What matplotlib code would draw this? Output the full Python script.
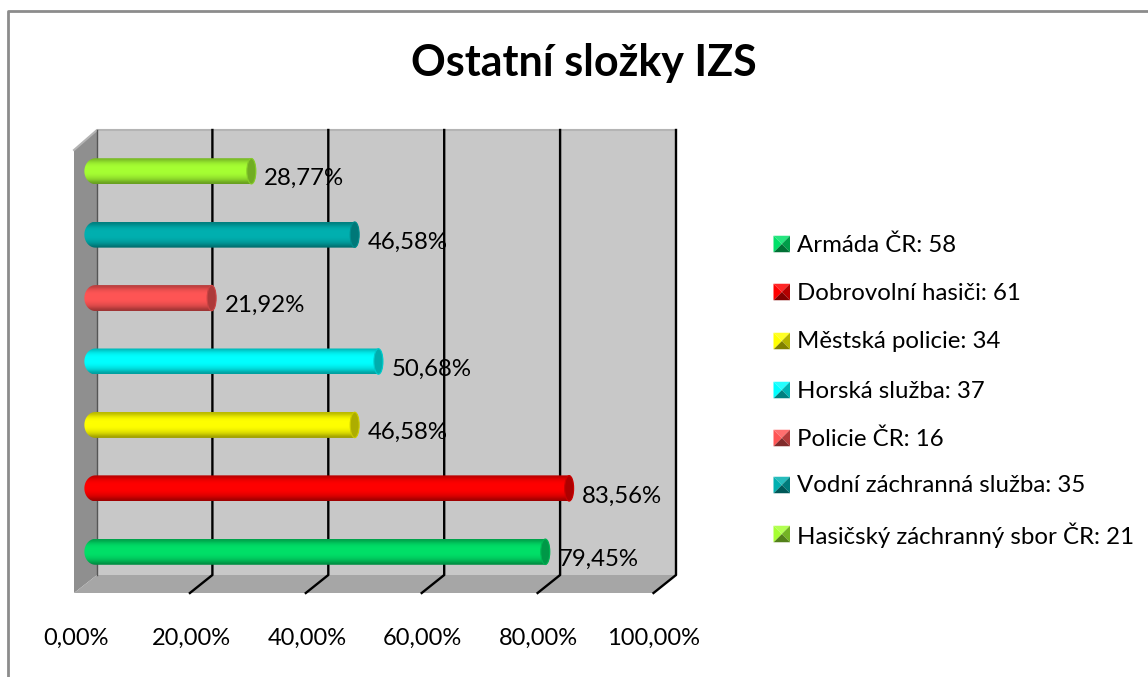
import numpy as np
import matplotlib
matplotlib.use("Agg")
import matplotlib.pyplot as plt
from matplotlib.colors import to_rgb
from matplotlib.patches import Polygon, Ellipse
from matplotlib.path import Path

W, H = 1148, 677

# data, bottom bar first
names = ["Armáda ČR", "Dobrovolní hasiči", "Městská policie", "Horská služba",
         "Policie ČR", "Vodní záchranná služba", "Hasičský záchranný sbor ČR"]
counts = [58, 61, 34, 37, 16, 35, 21]
percents = [79.45, 83.56, 46.58, 50.68, 21.92, 46.58, 28.77]
colors = ["#00e068", "#ff0000", "#ffff00", "#00ffff", "#ff5555", "#00b0b0", "#a6ff33"]
x_ticks = [0, 20, 40, 60, 80, 100]
legend_y = [244, 292, 341, 390, 438, 485, 534]

plt.rcParams["font.family"] = ["Lato", "DejaVu Sans"]

fig = plt.figure(figsize=(W / 100, H / 100), dpi=100)


def px_axes(left, right, top, bottom):
    return fig.add_axes([left / W, 1 - bottom / H, (right - left) / W, (bottom - top) / H])


# background axes in pixels: frame, walls, floor
bg = px_axes(0, W, 0, H)
bg.set_xlim(0, W)
bg.set_ylim(H, 0)
bg.axis("off")

bg.plot([8, 8, W], [H, 11, 11], color="#8c8c8c", lw=2)
bg.add_patch(Polygon([(97, 130), (676, 130), (676, 575), (97, 575)], fc="#c8c8c8", ec="none"))
bg.add_patch(Polygon([(97, 130), (97, 575), (74, 593), (74, 150)], fc="#8f8f8f", ec="none"))
bg.add_patch(Polygon([(97, 575), (676, 575), (654, 593), (74, 593)], fc="#a6a6a6", ec="none"))
bg.plot([74, 97, 676], [150, 130, 130], color="#b4b4b4", lw=1.5)

# gridlines on the back wall, running on over the floor
for t in x_ticks:
    xb = 96.5 + t * 5.795
    if t == 0:
        bg.plot([xb, xb], [130, 575], color="#555555", lw=1)
        continue
    bg.plot([xb, xb, xb - 22.5], [130, 575, 593], color="black", lw=1.7)

bg.text(584, 63, "Ostatní složky IZS", ha="center", va="center",
        fontsize=31, fontweight="bold", color="black")

# front axes only for the tick labels
front = px_axes(76.5, 653.5, 130, 593)
front.set_xlim(0, 100)
front.set_ylim(0, 1)
front.patch.set_alpha(0)
for s in front.spines.values():
    s.set_visible(False)
front.set_yticks([])
front.set_xticks(x_ticks)
front.set_xticklabels([f"{t:.2f}%".replace(".", ",") for t in x_ticks], fontsize=17)
front.tick_params(axis="x", length=0, pad=25)

# bar axes, zero sits at 89 px, the rounded end of a bar reaches a bit left of it
ax = px_axes(80, 669, 139.5, 583.5)
ax.axis("off")

bar_h = 26 / 63.43
cap_w = 9 / 5.8
start = -0.8
end_w = 11 / 5.8

# shading across the cylinder
prof = np.array([0.72, 0.88, 0.97, 1.0, 1.0, 1.0, 0.97, 0.9, 0.8, 0.62])

for i, (val, col) in enumerate(zip(percents, colors)):
    rgb = np.array(to_rgb(col))
    grad = np.outer(prof, rgb)[:, None, :]
    im = ax.imshow(grad, extent=[start, val, i - bar_h / 2, i + bar_h / 2], aspect="auto",
                   interpolation="bicubic", origin="upper", zorder=3)
    # pill shape for the clip: left end wide, right end as the cap
    a = np.linspace(np.pi / 2, 3 * np.pi / 2, 24)
    left_x = start + end_w + end_w * np.cos(a)
    right_x = val - cap_w / 2 - cap_w / 2 * np.cos(a[::-1])
    ys = bar_h / 2 * np.sin(a)
    outline = np.column_stack([np.r_[left_x, right_x[::-1][::-1]],
                               np.r_[i + ys, i + ys[::-1]]])
    im.set_clip_path(Path(np.r_[outline, outline[:1]]), ax.transData)
    ax.add_patch(Ellipse((val - cap_w / 2, i), cap_w, bar_h * 0.98, fc=rgb * 0.68, ec=rgb * 0.8,
                         lw=0.8, zorder=4))
    ax.annotate(f"{val:.2f}%".replace(".", ","), (val, i), xytext=(8.5, -7.5),
                textcoords="offset pixels", ha="left", va="center", fontsize=17.3,
                color="black", zorder=5, annotation_clip=False)

ax.set_xlim(-9 / 5.8, 100)
ax.set_ylim(-0.5, 6.5)

# legend with pyramid swatches
sw = 16.5
for name, cnt, col, y in zip(names, counts, colors, legend_y):
    rgb = np.array(to_rgb(col))
    x0, x1, y0, y1 = 773.5, 773.5 + sw, y - sw / 2, y + sw / 2
    c = ((x0 + x1) / 2, (y0 + y1) / 2)
    bg.add_patch(Polygon([(x0, y0), (x1, y0), c], fc=rgb * 0.85 + 0.15, ec="none"))
    bg.add_patch(Polygon([(x1, y0), (x1, y1), c], fc=rgb * 0.7, ec="none"))
    bg.add_patch(Polygon([(x1, y1), (x0, y1), c], fc=rgb * 0.5, ec="none"))
    bg.add_patch(Polygon([(x0, y1), (x0, y0), c], fc=rgb, ec="none"))
    bg.text(797, y + 1, f"{name}: {cnt}", ha="left", va="center", fontsize=17.25, color="black")

fig.savefig("out.png", dpi=100)
